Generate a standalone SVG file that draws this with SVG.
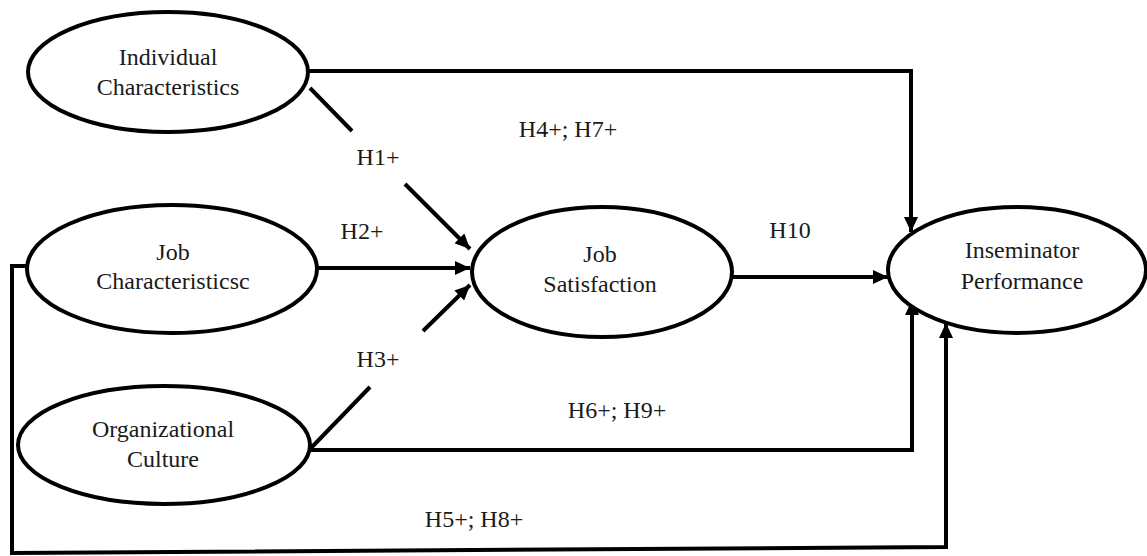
<svg xmlns="http://www.w3.org/2000/svg" width="1147" height="556" viewBox="0 0 1147 556">
<style>
.node ellipse{fill:#fff;stroke:#000;stroke-width:4}
text{font-family:"Liberation Serif","Times New Roman",serif;font-size:24px;fill:#1a1a1a;text-anchor:middle}
.conn path,.conn line{fill:none;stroke:#000;stroke-width:4}
</style>
<defs>
<marker id="arr" markerUnits="userSpaceOnUse" markerWidth="16" markerHeight="14" refX="15" refY="7" orient="auto">
<path d="M0,0 L15,7 L0,14 z" fill="#000"/>
</marker>
</defs>
<g class="conn" id="connectors">
<path d="M308,71 H911 V232" marker-end="url(#arr)"/>
<line x1="310" y1="88" x2="352" y2="131"/>
<line x1="405" y1="184" x2="470" y2="249" marker-end="url(#arr)"/>
<line x1="318" y1="268" x2="470" y2="268" marker-end="url(#arr)"/>
<line x1="310" y1="449" x2="370" y2="387"/>
<line x1="423" y1="331" x2="470" y2="285" marker-end="url(#arr)"/>
<path d="M27,266 H12 V553 L946,547 V323" marker-end="url(#arr)"/>
<path d="M310,450 H912 V300" marker-end="url(#arr)"/>
<line x1="731" y1="277" x2="888" y2="277" marker-end="url(#arr)"/>
</g>
<g id="labels">
<text x="568" y="137">H4+; H7+</text>
<text x="378" y="165">H1+</text>
<text x="362" y="239">H2+</text>
<text x="378" y="367">H3+</text>
<text x="790" y="238">H10</text>
<text x="617" y="418">H6+; H9+</text>
<text x="474" y="527">H5+; H8+</text>
</g>
<g class="node" id="individual">
<ellipse cx="168" cy="72" rx="140" ry="60"/>
<text x="168" y="65">Individual</text>
<text x="168" y="95">Characteristics</text>
</g>
<g class="node" id="jobchar">
<ellipse cx="172" cy="269" rx="145" ry="64"/>
<text x="173" y="260">Job</text>
<text x="173" y="289">Characteristicsc</text>
</g>
<g class="node" id="orgculture">
<ellipse cx="164" cy="445" rx="146" ry="59"/>
<text x="163" y="437">Organizational</text>
<text x="163" y="467">Culture</text>
</g>
<g class="node" id="jobsat">
<ellipse cx="602" cy="272" rx="130" ry="65"/>
<text x="600" y="262">Job</text>
<text x="600" y="292">Satisfaction</text>
</g>
<g class="node" id="performance">
<ellipse cx="1017" cy="270" rx="129" ry="63"/>
<text x="1022" y="258">Inseminator</text>
<text x="1022" y="289">Performance</text>
</g>
</svg>
